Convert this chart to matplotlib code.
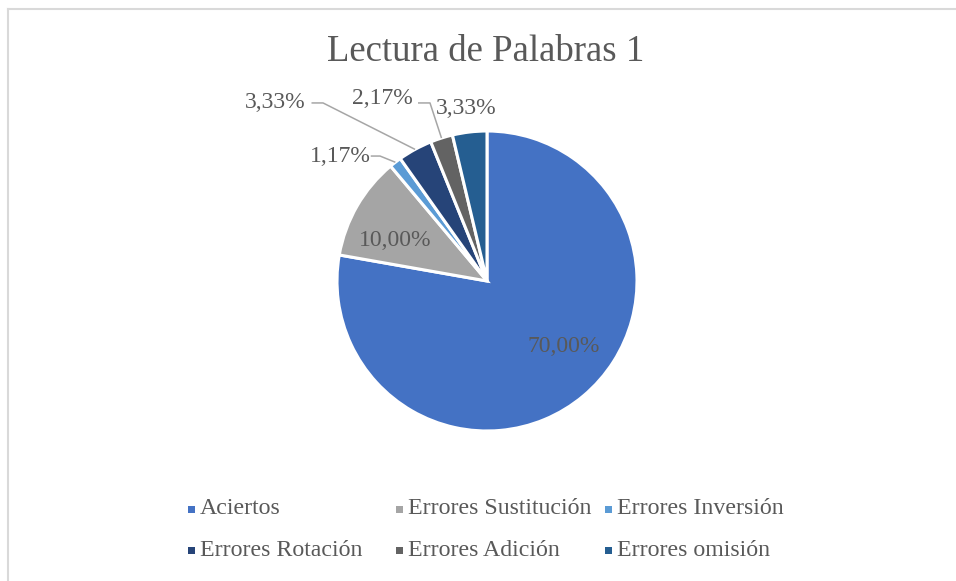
import matplotlib; matplotlib.use("Agg")
import matplotlib.pyplot as plt
import numpy as np
from matplotlib.patches import Rectangle
from matplotlib.lines import Line2D

plt.rcParams.update({"font.family": ["Liberation Serif", "DejaVu Serif"]})
TXT = "#595959"; LEAD = "#A6A6A6"; FRAME = "#D9D9D9"

# data
labels = ["Aciertos", "Errores Sustitución", "Errores Inversión",
          "Errores Rotación", "Errores Adición", "Errores omisión"]
values = [70.00, 10.00, 1.17, 3.33, 2.17, 3.33]
colors = ["#4472C4", "#A5A5A5", "#5B9BD5", "#264478", "#636363", "#255E91"]
# label text spots (pie units, radius 1)
label_pos = [(0.51, -0.44), (-0.61, 0.27), (-0.98, 0.833),
             (-1.41, 1.187), (-0.70, 1.22), (-0.14, 1.153)]
leader_elbow = [None, None, (-0.713, 0.833), (-1.093, 1.187), (-0.38, 1.187), None]
leader_start = [None, None, (-0.775, 0.833), (-1.17, 1.187), (-0.46, 1.187), None]

W, H = 956, 581
fig = plt.figure(figsize=(W/100, H/100), dpi=100)
fig.patch.set_facecolor("white")

# frame: only left and top edges are visible in the source
fig.add_artist(Line2D([7.5/W, 7.5/W], [-0.05, 1-8.5/H], transform=fig.transFigure, color=FRAME, lw=1.5))
fig.add_artist(Line2D([7.5/W, 1.05], [1-8.5/H, 1-8.5/H], transform=fig.transFigure, color=FRAME, lw=1.5))

cx, cy, R = 487, 281, 150
ax = fig.add_axes([(cx-2*R)/W, (H-cy-2*R)/H, 4*R/W, 4*R/H])
wedges, _ = ax.pie(values, colors=colors, startangle=90, counterclock=False, radius=1,
                   wedgeprops=dict(edgecolor="white", linewidth=2.2))
ax.set_xlim(-2, 2); ax.set_ylim(-2, 2); ax.axis("off")

for i, (w, v) in enumerate(zip(wedges, values)):
    txt = f"{v:.2f}".replace(".", ",") + "%"
    x, y = label_pos[i]
    ax.text(x, y, txt, ha="center", va="center", fontsize=17, color=TXT)
    if leader_elbow[i] is not None:
        ang = np.deg2rad((w.theta1 + w.theta2) / 2)
        px, py = np.cos(ang), np.sin(ang)
        ex, ey = leader_elbow[i]; sx, sy = leader_start[i]
        ax.plot([sx, ex, px], [sy, ey, py], color=LEAD, lw=1.1, solid_capstyle="butt")

fig.text(486/W, 1 - 52/H, "Lectura de Palabras 1", ha="center", va="center",
         fontsize=26.5, color=TXT)

# legend, laid out like the Excel one
col_x = [200, 408, 617]
row_y = [509, 550]
for i, (lab, c) in enumerate(zip(labels, colors)):
    tx = col_x[i % 3]; ty = row_y[i // 3]
    fig.patches.append(Rectangle(((tx-12)/W, 1-(ty+3.5)/H), 7/W, 7/H,
                                 transform=fig.transFigure, fc=c, ec="none"))
    fig.text(tx/W, 1 - ty/H, lab, ha="left", va="center", fontsize=17.2, color=TXT)

fig.savefig("out.png", dpi=100, facecolor="white")
